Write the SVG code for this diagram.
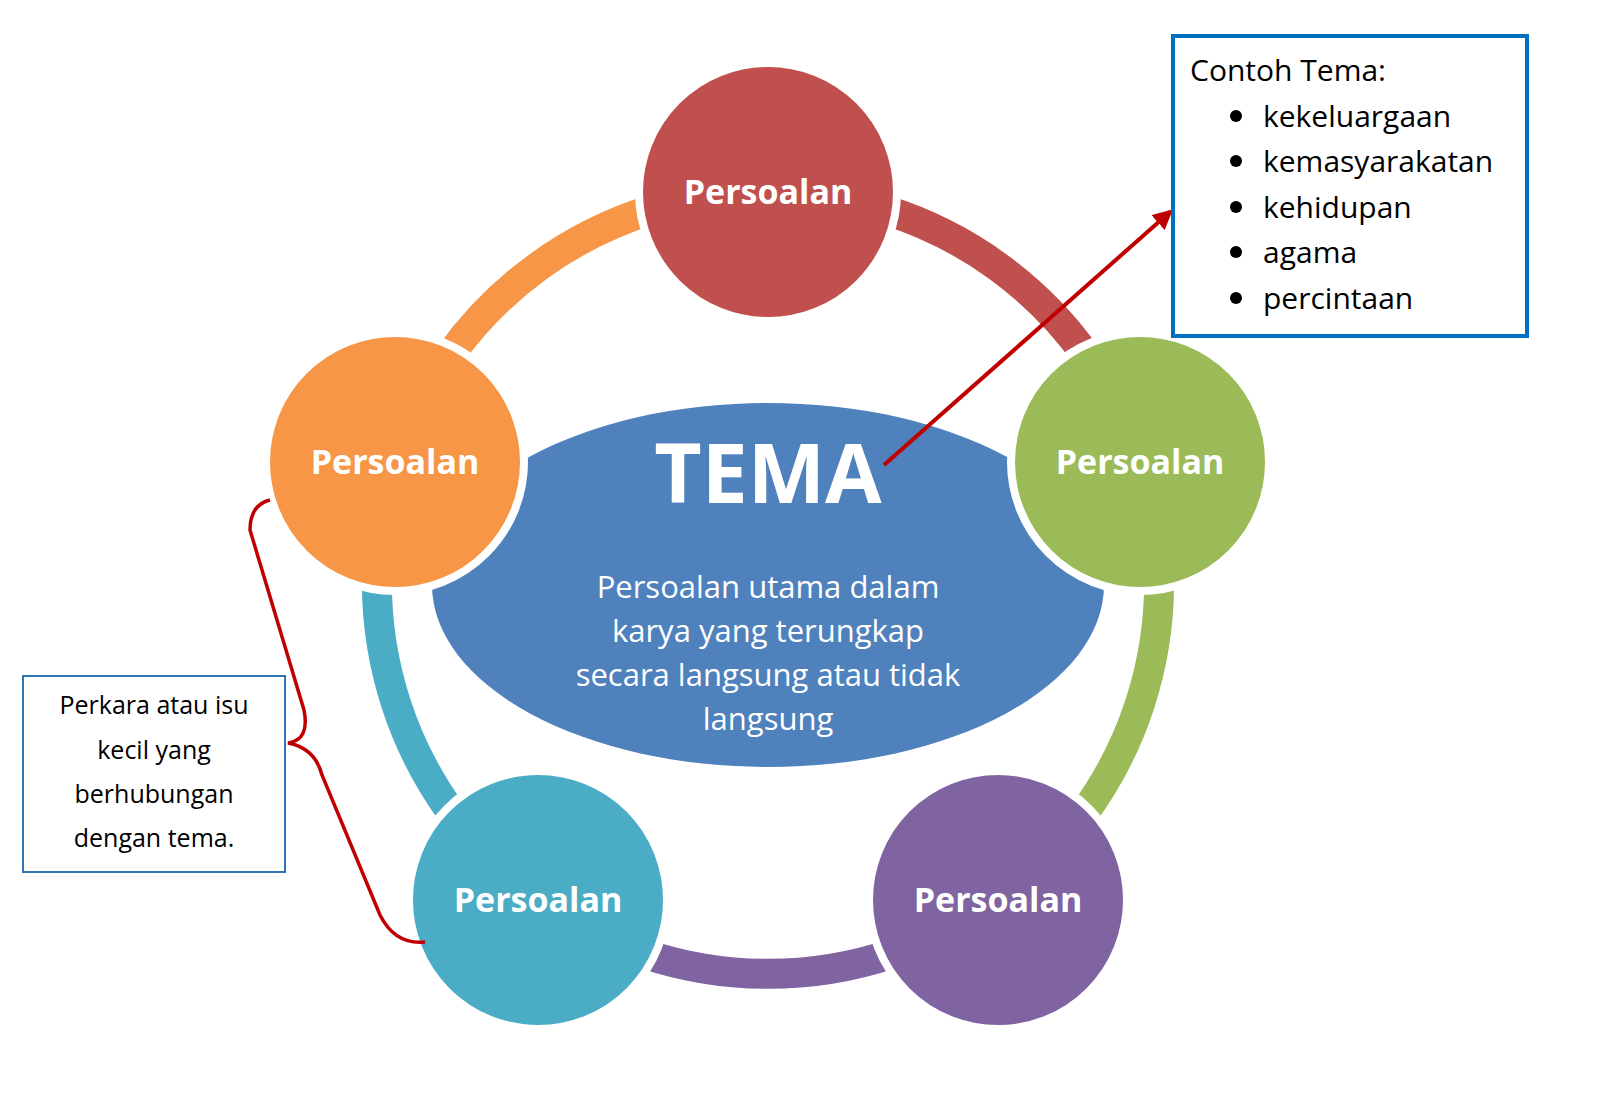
<svg xmlns="http://www.w3.org/2000/svg" width="1600" height="1099" viewBox="0 0 1600 1099">
<style>
.arc{fill:none;stroke-width:30}
.node{stroke:#fff;stroke-width:8}
.nl{font-family:"Open Sans","Liberation Sans",sans-serif;font-weight:bold;font-size:34px;fill:#fff;text-anchor:middle}
.t{font-family:"Open Sans","Liberation Sans",sans-serif;fill:#000}
</style>
<defs><marker id="ah" markerWidth="5" markerHeight="5" refX="4" refY="2.5" orient="auto" markerUnits="strokeWidth"><path d="M0,0 L5,2.5 L0,5 z" fill="#c00000"/></marker></defs>
<rect width="1600" height="1099" fill="#fff"/>
<g id="ring">
<path class="arc" stroke="#c0504d" d="M768,192 A391,391 0 0 1 1140,462"/>
<path class="arc" stroke="#9bbb59" d="M1140,462 A391,391 0 0 1 998,899"/>
<path class="arc" stroke="#8064a2" d="M998,899 A391,391 0 0 1 538,899"/>
<path class="arc" stroke="#4bacc6" d="M538,899 A391,391 0 0 1 396,462"/>
<path class="arc" stroke="#f79646" d="M396,462 A391,391 0 0 1 768,192"/>
</g>
<g id="tema">
<ellipse cx="768" cy="585" rx="336" ry="182" fill="#4f81bd"/>
<text x="768" y="503" font-family="'Open Sans','Liberation Sans',sans-serif" font-weight="bold" font-size="82" fill="#fff" text-anchor="middle">TEMA</text>
<g font-family="'Open Sans','Liberation Sans',sans-serif" font-size="31" fill="#fff" text-anchor="middle">
<text x="768" y="598">Persoalan utama dalam</text>
<text x="768" y="642">karya yang terungkap</text>
<text x="768" y="686">secara langsung atau tidak</text>
<text x="768" y="730">langsung</text></g>
</g>
<g id="n1"><circle class="node" cx="768" cy="192" r="129" fill="#c0504d"/><text class="nl" x="768" y="204">Persoalan</text></g>
<g id="n2"><circle class="node" cx="1140" cy="462" r="129" fill="#9bbb59"/><text class="nl" x="1140" y="474">Persoalan</text></g>
<g id="n3"><circle class="node" cx="998" cy="900" r="129" fill="#8064a2"/><text class="nl" x="998" y="912">Persoalan</text></g>
<g id="n4"><circle class="node" cx="538" cy="900" r="129" fill="#4bacc6"/><text class="nl" x="538" y="912">Persoalan</text></g>
<g id="n5"><circle class="node" cx="395" cy="462" r="129" fill="#f79646"/><text class="nl" x="395" y="474">Persoalan</text></g>
<g id="connectors">
<line x1="884" y1="465" x2="1170" y2="212" stroke="#c00000" stroke-width="4" marker-end="url(#ah)"/>
<path d="M270,500 Q250,505 250,530 L304,710 Q310,740 288,743 Q315,748 322,775 L380,915 Q395,945 425,942" fill="none" stroke="#c00000" stroke-width="3.5"/>
</g>
<g id="contoh">
<rect x="1173" y="36" width="354" height="300" fill="#fff" stroke="#0070c0" stroke-width="4"/>
<g class="t" font-size="30">
<text x="1190" y="81">Contoh Tema:</text>
<text x="1263" y="127">kekeluargaan</text>
<text x="1263" y="172">kemasyarakatan</text>
<text x="1263" y="218">kehidupan</text>
<text x="1263" y="263">agama</text>
<text x="1263" y="309">percintaan</text></g>
<g fill="#000"><circle cx="1236" cy="116" r="6"/><circle cx="1236" cy="161" r="6"/><circle cx="1236" cy="207" r="6"/><circle cx="1236" cy="252" r="6"/><circle cx="1236" cy="298" r="6"/></g>
</g>
<g id="perkara">
<rect x="23" y="676" width="262" height="196" fill="#fff" stroke="#2e75b6" stroke-width="2"/>
<g class="t" font-size="25" text-anchor="middle">
<text x="154" y="714">Perkara atau isu</text>
<text x="154" y="759">kecil yang</text>
<text x="154" y="803">berhubungan</text>
<text x="154" y="847">dengan tema.</text></g>
</g>
</svg>
